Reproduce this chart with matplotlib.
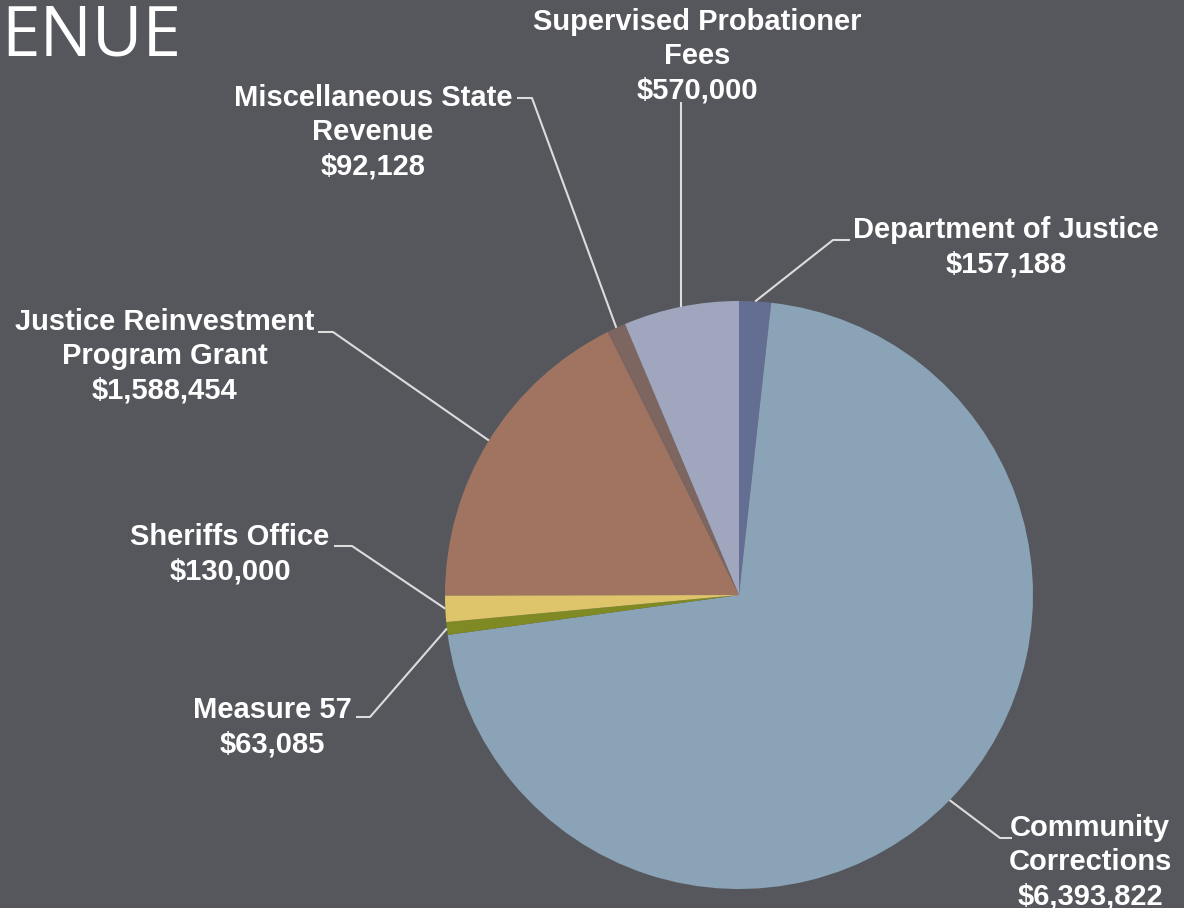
import numpy as np
import matplotlib
matplotlib.use("Agg")
import matplotlib.pyplot as plt

# revenue sources, in pie order (clockwise from 12 o'clock)
sources = ["Department of Justice", "Community\nCorrections", "Measure 57",
           "Sheriffs Office", "Justice Reinvestment\nProgram Grant",
           "Miscellaneous State\nRevenue", "Supervised Probationer\nFees"]
amounts = [157188, 6393822, 63085, 130000, 1588454, 92128, 570000]
colors = ["#646e92", "#8ba3b7", "#7f8a24", "#dec46b", "#a17462", "#7e6660", "#a0a6bd"]

# label layout in pixels (y from top): text centre x, first line centre y, elbow point
label_pos = [(1006, 230, (833, 240), (850, 240)),
             (1090, 828, (1000, 838), (1012, 838)),
             (272, 710, (370, 717), (356, 717)),
             (230, 537, (352, 546), (334, 546)),
             (165, 322, (333, 332), (318, 332)),
             (373, 98, (532, 98), (517, 98)),
             (697, 22, None, None)]

W, H = 1184, 908
bg = "#56575d"
fig = plt.figure(figsize=(W / 100, H / 100), dpi=100, facecolor=bg)
ax = fig.add_axes([0, 0, 1, 1])
ax.set_facecolor(bg)

cx, cy, r = 739, H - 595, 294
wedges, _ = ax.pie(amounts, colors=colors, startangle=90, counterclock=False,
                   center=(cx, cy), radius=r, wedgeprops=dict(linewidth=0))
ax.set_xlim(0, W)
ax.set_ylim(0, H)
ax.set_aspect("equal")
ax.axis("off")

line_col = "#dcdcdc"
for w, name, amt, (tx, ty, elbow, end) in zip(wedges, sources, amounts, label_pos):
    mid = np.deg2rad((w.theta1 + w.theta2) / 2)
    px, py = cx + r * np.cos(mid), cy + r * np.sin(mid)
    if elbow is None:
        xs, ys = [px, px], [py, H - 102]
    else:
        xs = [px, elbow[0], end[0]]
        ys = [py, H - elbow[1], H - end[1]]
    ax.plot(xs, ys, color=line_col, lw=1.5, solid_capstyle="butt")
    txt = name + "\n" + "${:,}".format(amt)
    ax.text(tx, H - ty + 14, txt, ha="center", va="top", color="white",
            fontsize=21, fontweight="bold", family="Liberation Sans",
            linespacing=1.28)

ax.text(1, H - 55, "ENUE", ha="left", va="baseline", color="white",
        fontsize=50, family="Open Sans", fontweight="normal")

fig.savefig("out.png", dpi=100, facecolor=bg)
